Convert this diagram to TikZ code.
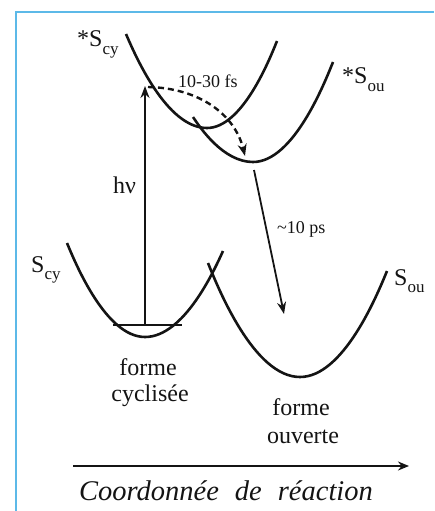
\documentclass[tikz,border=0pt]{standalone}
\usepackage{fontspec}
\setmainfont{Liberation Serif}
\usetikzlibrary{arrows.meta}
\definecolor{framecol}{RGB}{92,185,232}
\definecolor{inkcol}{RGB}{20,20,20}
\newcommand\subx[1]{\raisebox{-0.32em}{\fontsize{17}{17}\selectfont #1}}
\begin{document}
\begin{tikzpicture}[x=1pt,y=-1pt,
  curve/.style={line width=2.6pt, inkcol},
  arr/.style={line width=1.8pt, inkcol, -{Stealth[length=12pt,width=9pt]}},
  lbl/.style={inner sep=0pt, text=inkcol, font=\fontsize{24}{26}\selectfont},
  small/.style={inner sep=0pt, text=inkcol, font=\fontsize{18}{20}\selectfont}]
\useasboundingbox (0,0) rectangle (434,511);
\draw[framecol, line width=1.5pt] (16,511) -- (16,12) -- (434,12);
% potential curves
\coordinate (ecyL) at (126,34); \coordinate (ecyM) at (207,128); \coordinate (ecyR) at (277,41);
\coordinate (eouL) at (193,117); \coordinate (eouM) at (253,162); \coordinate (eouR) at (333,62);
\coordinate (gcyL) at (67,243); \coordinate (gcyM) at (145,337); \coordinate (gcyR) at (223,251);
\coordinate (gouL) at (208,263); \coordinate (gouM) at (300,377); \coordinate (gouR) at (387,271);
\draw[curve] (ecyL) parabola bend (ecyM) (ecyR);
\draw[curve] (eouL) parabola bend (eouM) (eouR);
\draw[curve] (gcyL) parabola bend (gcyM) (gcyR);
\draw[curve] (gouL) parabola bend (gouM) (gouR);
% vibrational level
\coordinate (vL) at (113,325); \coordinate (vR) at (182,325); \coordinate (vM) at (145,325);
\draw[line width=2pt, inkcol] (vL) -- (vR);
% excitation
\coordinate (hvtop) at (145,86);
\draw[arr] (vM) -- (hvtop);
% dashed
\coordinate (dS) at (148,87); \coordinate (dE) at (245,156);
\draw[arr, dashed, dash pattern=on 6pt off 4pt, line width=2.4pt] (dS) .. controls (200,88) and (235,115) .. (dE);
% relaxation
\coordinate (rS) at (254,170); \coordinate (rE) at (284,314);
\draw[arr] (rS) -- (rE);
% axis
\coordinate (axL) at (73,466); \coordinate (axR) at (409,466);
\draw[line width=2.4pt, inkcol, -{Stealth[length=11pt,width=9pt]}] (axL) -- (axR);
% labels
\node[lbl, anchor=base west] (tecy) at (77,47) {*S\subx{cy}};
\node[lbl, anchor=base west] (teou) at (342,84) {*S\subx{ou}};
\node[lbl, anchor=base west] (tgcy) at (31,272) {S\subx{cy}};
\node[lbl, anchor=base west] (tgou) at (394,285) {S\subx{ou}};
\node[small, anchor=base west] (tfs) at (178,88) {10-30 fs};
\node[small, anchor=base west] (tps) at (277,233) {\textasciitilde10 ps};
\node[lbl, anchor=base west] (thv) at (113,193) {hν};
\node[lbl, anchor=base] (tfc1) at (148,375) {forme};
\node[lbl, anchor=base] (tfc2) at (150,401) {cyclisée};
\node[lbl, anchor=base] (tfo1) at (301,415) {forme};
\node[lbl, anchor=base] (tfo2) at (303,443) {ouverte};
\node[inner sep=0pt, text=inkcol, anchor=base, font=\fontsize{28.5}{30}\selectfont\itshape] (tax) at (226,500) {Coordonnée\hspace{16pt}de\hspace{16pt}réaction};
\end{tikzpicture}
\end{document}
